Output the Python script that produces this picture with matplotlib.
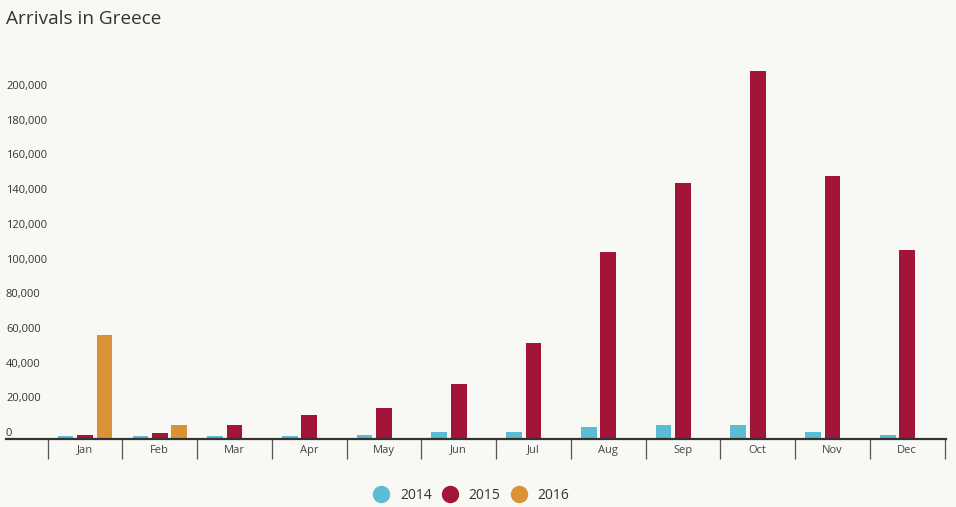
import matplotlib.pyplot as plt
from matplotlib.lines import Line2D
from matplotlib.transforms import offset_copy
import numpy as np

plt.rcParams['font.family'] = ['Open Sans', 'DejaVu Sans']

months = ['Jan', 'Feb', 'Mar', 'Apr', 'May', 'Jun',
          'Jul', 'Aug', 'Sep', 'Oct', 'Nov', 'Dec']
arrivals_2014 = [1700, 1700, 2000, 1800, 2200, 3900, 4300, 7100, 7900, 7900, 4300, 2400]
arrivals_2015 = [2200, 3600, 8300, 13800, 18100, 31500, 55300, 108000, 147400, 212000, 151600, 109000]
arrivals_2016 = [60000, 7900]
years = ['2014', '2015', '2016']
colors = ['#5bbcd3', '#a31538', '#db9135']
y_ticks = [0, 20000, 40000, 60000, 80000, 100000, 120000, 140000, 160000, 180000, 200000]

bg = '#f8f8f4'
fig = plt.figure(figsize=(9.56, 5.07), dpi=100, facecolor=bg)
ax = fig.add_axes([6/956, 1-439/507, 940/956, 381.7/507])
ax.set_facecolor(bg)

x = np.arange(len(months))
w = 0.21
ax.bar(x - 0.26, arrivals_2014, w, color=colors[0])
ax.bar(x, arrivals_2015, w, color=colors[1])
ax.bar(x[:len(arrivals_2016)] + 0.26, arrivals_2016, w, color=colors[2])

ax.set_xlim(-1.058, 11.52)
ax.set_ylim(0, 220000)

for s in ['top', 'right', 'left']:
    ax.spines[s].set_visible(False)
ax.spines['bottom'].set_color('#333333')
ax.spines['bottom'].set_linewidth(1.6)

ax.set_yticks([])
ax.set_xticks(np.arange(-0.5, 12, 1))
ax.set_xticklabels([])
ax.tick_params(axis='x', which='major', length=14.5, width=0.9, color='#555555')
ax.set_xticks(x, minor=True)
ax.set_xticklabels(months, minor=True, fontsize=8, color='#444444')
ax.tick_params(axis='x', which='minor', length=0, pad=4)

# y labels sit just above their value line, inside the plot
trans = offset_copy(ax.get_yaxis_transform(), fig=fig, x=0, y=3, units='dots')
for v in y_ticks:
    ax.text(0, v, f'{v:,}', transform=trans, ha='left', va='baseline',
            fontsize=8, color='#333333')

fig.text(6/956, 1-24/507, 'Arrivals in Greece', fontsize=13.7, color='#333333',
         va='baseline', ha='left')

handles = [Line2D([], [], marker='o', linestyle='none', markersize=11.5,
                  markerfacecolor=c, markeredgecolor=c) for c in colors]
fig.legend(handles, years, loc='center', bbox_to_anchor=(471/956, 1-495.7/507),
           ncol=3, frameon=False, fontsize=10, handlelength=1.2,
           handletextpad=0.75, columnspacing=0.7, labelcolor='#333333')

fig.savefig('out.png', dpi=100, facecolor=bg)
